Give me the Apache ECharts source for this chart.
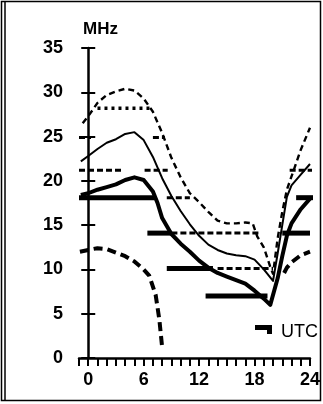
<!DOCTYPE html>
<html><head><meta charset="utf-8">
<script src="https://cdn.jsdelivr.net/npm/echarts@6/dist/echarts.min.js"></script>
<style>html,body{margin:0;padding:0;background:#fff}#c{width:323px;height:404px}</style>
</head><body><div id="c"></div>
<script>
// ---- data (hour UTC, MHz) ----
const xTickLabels = [0, 6, 12, 18, 24];
const yTickLabels = [0, 5, 10, 15, 20, 25, 30, 35];

const upperDashed = [[-0.6,26.5],[0,27.3],[1,28.8],[2,29.7],[3,30.1],[4,30.4],[5,30.2],[6,29.3],[7,27.8],[8,25.4],[9,22.6],[10,20.4],[11,18.6],[12,17.6],[13,16.5],[14,15.5],[15,15.2],[16,15.2],[17,15.3],[17.8,15.2],[18.3,13.7],[19,12.5],[19.7,10.3],[20,9.5],[20.5,13.5],[21,16.5],[21.5,19],[22,20.5],[23,23.5],[24,26]];
const mufThin = [[-0.8,22.2],[0,22.8],[1,23.6],[2,24.3],[3,24.7],[4,25.3],[5,25.5],[6,24.6],[7,22.7],[8,20.3],[9,18.3],[10,16.6],[11,15.1],[12,13.8],[13,12.8],[14,12.2],[15,11.8],[16,11.6],[17,11.5],[18,11.1],[19,10],[20,8.7],[20.5,11.8],[21,15],[21.5,18.2],[22,19.5],[23,20.7],[24,21.9]];
const fotThick = [[-0.8,18.4],[0,18.6],[1,19],[2,19.3],[3,19.6],[4,20.1],[5,20.4],[6,20.1],[7,18.8],[7.5,17.5],[8,15.8],[9,14],[10,12.9],[11,12],[12,11],[13,10.2],[14,9.6],[15,9.2],[16,8.8],[17,8.4],[18,7.6],[19,6.7],[19.7,6],[20.5,9],[21,11.5],[21.5,13.8],[22,15.2],[23,16.8],[24,18]];
const lowerDashedA = [[-0.9,12],[0,12.2],[1,12.4],[2,12.3],[3,11.9],[4,11.5],[5,10.9],[6,10],[6.6,9.3],[7.3,7.1],[7.7,4.3],[8,1.2]];
const lowerDashedB = [[21.2,9.6],[21.5,10.2],[22,10.8],[23,11.6],[24,12]];

// band segments [fromHour, toHour, MHz]
const bandsThick = [[-1,7.2,18.1],[22.5,24.9,18.1],[6.4,9,14.1],[21,24,14.1],[8.5,13.5,10.1],[12.7,19.4,7.0]];
const bandsDashed = [[-1,0.3,24.9],[7,8.3,24.9],[-1,3.6,21.2],[6.1,8.6,21.2],[21.8,24.6,21.2],[8.5,11,18.1],[9,18.5,14.1],[14,20,10.1]];
const bandsDotted = [[1,7,28.2]];

// ---- chart ----
const chart = echarts.init(document.getElementById('c'), null, {renderer: 'canvas'});
const grid = {left: 79, top: 48, width: 233, height: 310};
const font = 'Liberation Sans, Arial, sans-serif';

function seg(s, style) {
  return {type: 'line', data: [[s[0], s[2]], [s[1], s[2]]], symbol: 'none', clip: false,
    lineStyle: Object.assign({color: '#000'}, style), silent: true, animation: false, z: 2};
}
function curve(d, style) {
  return {type: 'line', data: d, symbol: 'none', clip: false, silent: true, animation: false, z: 3,
    lineStyle: Object.assign({color: '#000', join: 'round'}, style)};
}
const series = [];
bandsThick.forEach(s => series.push(seg(s, {width: 5, cap: 'butt'})));
bandsDashed.forEach(s => series.push(seg(s, {width: 3, type: [6, 3]})));
bandsDotted.forEach(s => series.push(seg(s, {width: 3.5, type: [3, 4]})));
series.push(curve(upperDashed, {width: 2.4, type: [6, 4]}));
series.push(curve(mufThin, {width: 2}));
series.push(curve(fotThick, {width: 4}));
series.push(curve(lowerDashedA, {width: 4, type: [9, 5]}));
series.push(curve(lowerDashedB, {width: 4, type: [9, 5]}));

const axisCommon = {min: -1, max: 24, interval: 1, splitLine: {show: false}};
chart.setOption({
  animation: false,
  backgroundColor: '#fff',
  grid: grid,
  xAxis: [
    Object.assign({type: 'value', axisLine: {onZero: false, lineStyle: {color: '#000', width: 2.5}},
      axisTick: {inside: false, length: 8, lineStyle: {color: '#000', width: 2}},
      axisLabel: {color: '#000', fontSize: 18, fontWeight: 'bold', fontFamily: font, margin: 13,
        formatter: v => (xTickLabels.indexOf(v) >= 0 ? String(v) : '')}}, axisCommon),
    Object.assign({type: 'value', axisLine: {show: false},
      axisTick: {inside: true, length: 8, lineStyle: {color: '#000', width: 2}},
      axisLabel: {show: false}}, axisCommon)
  ],
  yAxis: [
    {type: 'value', min: 0, max: 35, interval: 5, splitLine: {show: false},
      axisLine: {show: true, lineStyle: {color: '#000', width: 2.5}},
      axisTick: {inside: false, length: 7, lineStyle: {color: '#000', width: 2}},
      axisLabel: {color: '#000', fontSize: 18, fontWeight: 'bold', fontFamily: font, margin: 16,
        formatter: v => (yTickLabels.indexOf(v) >= 0 ? String(v) : '')}},
    {type: 'value', min: 0, max: 35, interval: 5, position: 'left', splitLine: {show: false},
      axisLine: {show: false}, axisTick: {inside: true, length: 7, lineStyle: {color: '#000', width: 2}},
      axisLabel: {show: false}}
  ],
  series: series,
  graphic: [
    {type: 'text', left: 83, top: 21, style: {text: 'MHz', font: 'bold 17px ' + font, fill: '#000'}},
    {type: 'text', left: 281, top: 323, style: {text: 'UTC', font: '18px ' + font, fill: '#000'}},
    {type: 'rect', shape: {x: 255, y: 325, width: 16, height: 5}, style: {fill: '#000'}},
    {type: 'rect', shape: {x: 267, y: 325, width: 5, height: 9}, style: {fill: '#000'}},
    {type: 'rect', shape: {x: 1.5, y: 1.5, width: 319, height: 399}, style: {fill: 'none', stroke: '#000', lineWidth: 1.5}},
    {type: 'line', shape: {x1: 5, y1: 1.5, x2: 5, y2: 400}, style: {stroke: '#000', lineWidth: 1.5}}
  ]
});
</script></body></html>
